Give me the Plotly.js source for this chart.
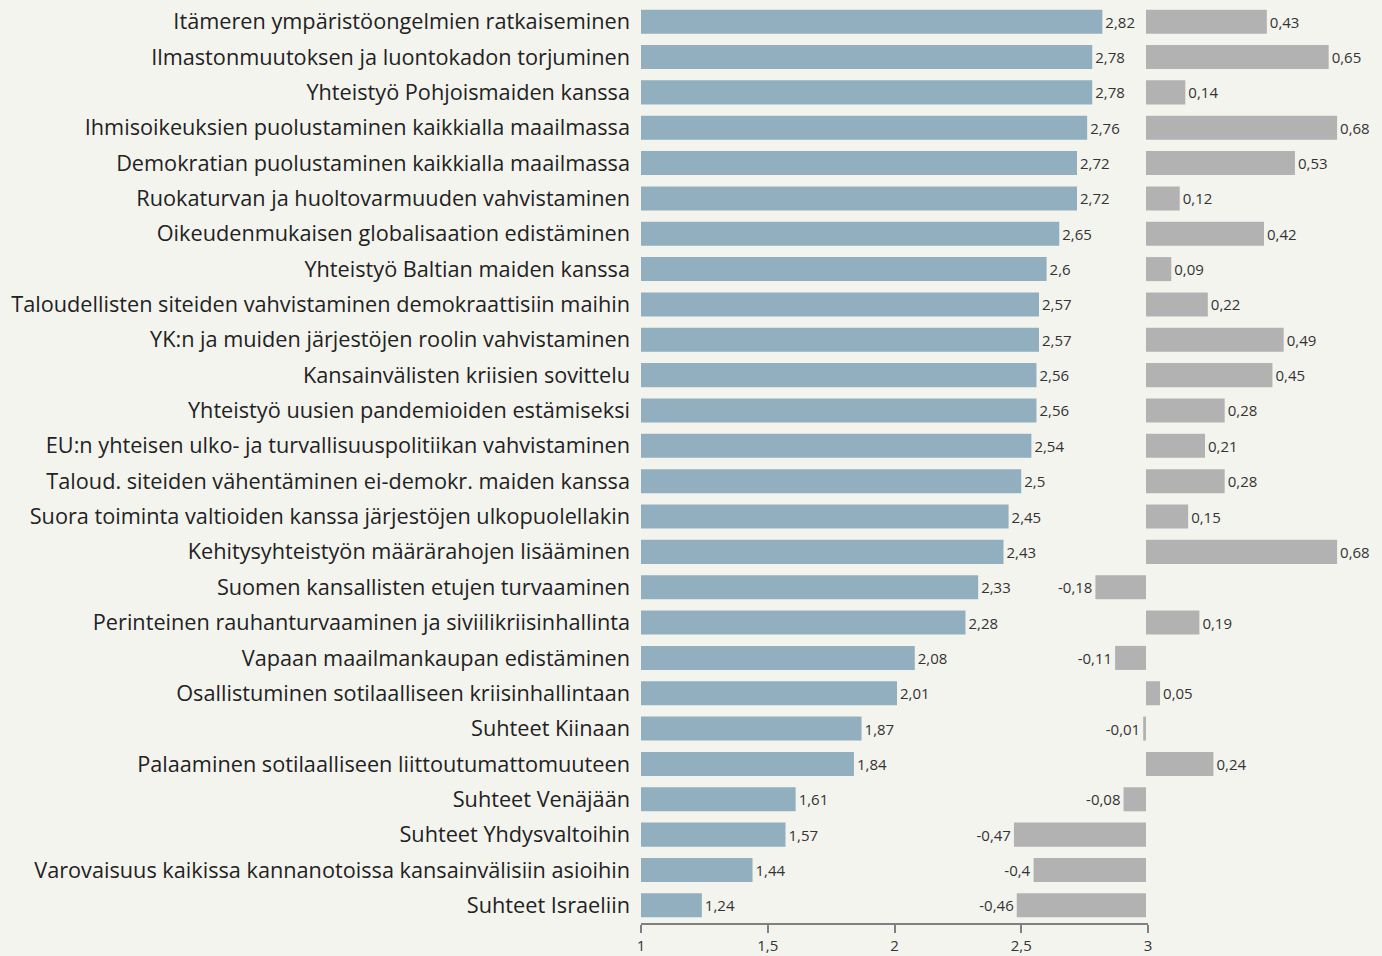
<!DOCTYPE html>
<html><head><meta charset="utf-8">
<script src="https://cdn.plot.ly/plotly-3.0.1.min.js"></script>
<style>html,body{margin:0;padding:0;background:#f4f4ef;}</style>
</head><body><div id="chart" style="width:1382px;height:956px;"></div>
<script>
const categories = [
"Itämeren ympäristöongelmien ratkaiseminen",
"Ilmastonmuutoksen ja luontokadon torjuminen",
"Yhteistyö Pohjoismaiden kanssa",
"Ihmisoikeuksien puolustaminen kaikkialla maailmassa",
"Demokratian puolustaminen kaikkialla maailmassa",
"Ruokaturvan ja huoltovarmuuden vahvistaminen",
"Oikeudenmukaisen globalisaation edistäminen",
"Yhteistyö Baltian maiden kanssa",
"Taloudellisten siteiden vahvistaminen demokraattisiin maihin",
"YK:n ja muiden järjestöjen roolin vahvistaminen",
"Kansainvälisten kriisien sovittelu",
"Yhteistyö uusien pandemioiden estämiseksi",
"EU:n yhteisen ulko- ja turvallisuuspolitiikan vahvistaminen",
"Taloud. siteiden vähentäminen ei-demokr. maiden kanssa",
"Suora toiminta valtioiden kanssa järjestöjen ulkopuolellakin",
"Kehitysyhteistyön määrärahojen lisääminen",
"Suomen kansallisten etujen turvaaminen",
"Perinteinen rauhanturvaaminen ja siviilikriisinhallinta",
"Vapaan maailmankaupan edistäminen",
"Osallistuminen sotilaalliseen kriisinhallintaan",
"Suhteet Kiinaan",
"Palaaminen sotilaalliseen liittoutumattomuuteen",
"Suhteet Venäjään",
"Suhteet Yhdysvaltoihin",
"Varovaisuus kaikissa kannanotoissa kansainvälisiin asioihin",
"Suhteet Israeliin"
];
const means = [2.82,2.78,2.78,2.76,2.72,2.72,2.65,2.6,2.57,2.57,2.56,2.56,2.54,2.5,2.45,2.43,2.33,2.28,2.08,2.01,1.87,1.84,1.61,1.57,1.44,1.24];
const changes = [0.43,0.65,0.14,0.68,0.53,0.12,0.42,0.09,0.22,0.49,0.45,0.28,0.21,0.28,0.15,0.68,-0.18,0.19,-0.11,0.05,-0.01,0.24,-0.08,-0.47,-0.4,-0.46];
const tickVals = [1,1.5,2,2.5,3];
const tickText = ["1","1,5","2","2,5","3"];

const fmt = v => String(v).replace('.', ',');
const W = 1382, L = 641, R = 0;
const plotW = W - L - R;
const pxPerUnit1 = 253.5, pxPerUnit2 = 281, zero2 = 1146;
const dom1End = (2 * pxPerUnit1) / plotW;
const r2lo = (L - zero2) / pxPerUnit2, r2hi = (W - R - zero2) / pxPerUnit2;

const labelFont = {family: "Open Sans, sans-serif", size: 15, color: "#333"};
const traces = [
  {type:'bar', orientation:'h', y: categories, x: means.map(v => v - 1), base: 1,
   xaxis:'x', yaxis:'y', marker:{color:'#91afbe'},
   text: means.map(fmt), textposition:'outside', cliponaxis:false,
   textfont: labelFont, hoverinfo:'skip'},
  {type:'bar', orientation:'h', y: categories, x: changes,
   xaxis:'x2', yaxis:'y', marker:{color:'#b2b2b2'},
   text: changes.map(fmt), textposition:'outside', cliponaxis:false,
   textfont: labelFont, hoverinfo:'skip'}
];
const layout = {
  width: W, height: 956,
  margin: {l: L, r: R, t: 4, b: 33},
  paper_bgcolor: '#f4f4ef', plot_bgcolor: 'rgba(0,0,0,0)',
  showlegend: false, bargap: 0.32, barmode: 'overlay',
  font: {family: "Open Sans, sans-serif", color: '#222'},
  xaxis: {domain: [0, dom1End], range: [1, 3], tickvals: tickVals, ticktext: tickText,
          showgrid: false, zeroline: false, showline: true, linecolor: '#808080', linewidth: 2,
          ticks: 'outside', ticklen: 8, tickcolor: '#808080', tickwidth: 2,
          tickfont: {size: 15, color: '#333'}, anchor: 'y', fixedrange: true},
  xaxis2: {domain: [0, 1], range: [r2lo, r2hi], visible: false, anchor: 'y', fixedrange: true},
  yaxis: {type: 'category', autorange: 'reversed', showgrid: false, zeroline: false, showline: false,
          ticks: '', ticklabelstandoff: 10, tickfont: {size: 21.7, color: '#222'}, anchor: 'x', fixedrange: true}
};
Plotly.newPlot('chart', traces, layout, {displayModeBar: false, staticPlot: true});
</script></body></html>
